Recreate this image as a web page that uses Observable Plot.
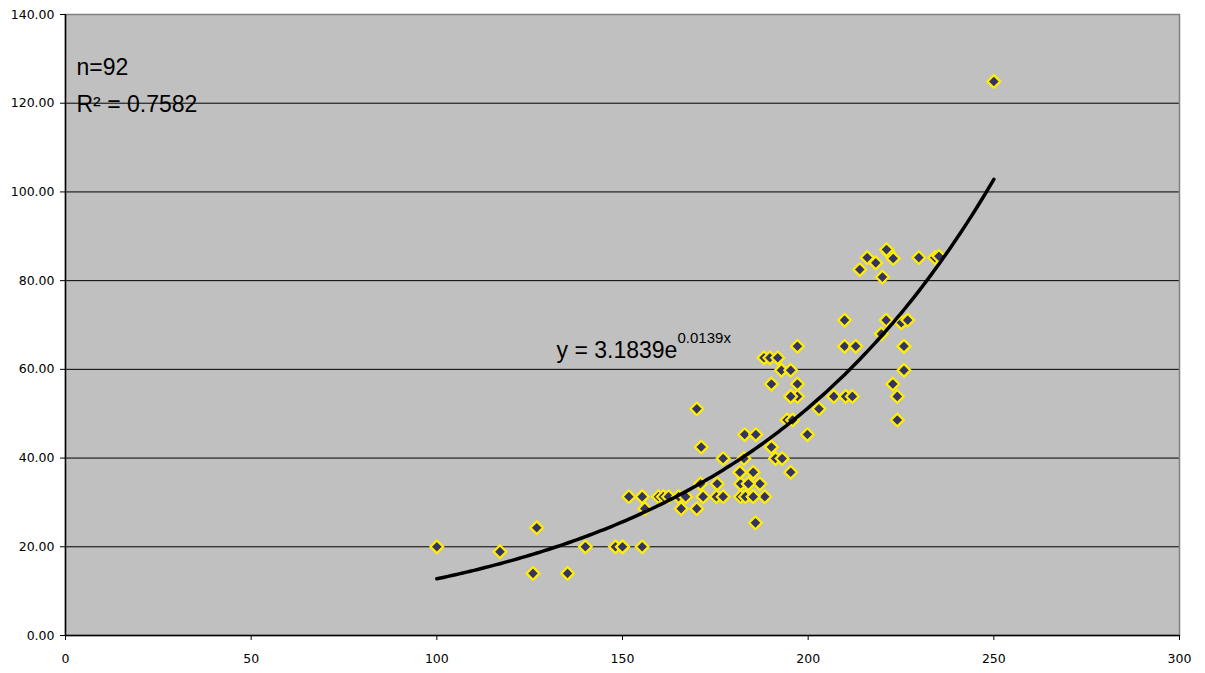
<!DOCTYPE html>
<html>
<head>
<meta charset="utf-8">
<script src="https://cdn.jsdelivr.net/npm/d3@7"></script>
<script src="https://cdn.jsdelivr.net/npm/@observablehq/plot@0.6"></script>
<style>
  html, body { margin: 0; padding: 0; background: #ffffff; }
  #chart { width: 1205px; height: 673px; }
</style>
</head>
<body>
<div id="chart"></div>
<script>
const xValues = [
  100, 117, 125.9, 126.9, 135.2, 140.0, 148.1, 150.0, 155.3,
  151.7, 155.3, 159.7, 161.0, 162.4, 165.1, 167.0, 171.7, 175.3, 177.1,
  156.0, 165.8, 170.0, 171.0, 175.5,
  170.0, 171.2, 177.1,
  182.9, 185.9, 181.6, 185.2, 181.8, 183.9, 187.0, 181.8, 183.1, 185.2, 188.3, 185.8,
  190.1, 191.2, 193.0, 195.3, 199.8, 182.7,
  197.1, 188.1, 189.7, 191.8, 192.8, 195.3, 190.1, 197.1, 195.3, 197.1, 194.3, 195.8, 202.9,
  206.9, 210.1, 211.9, 209.8, 212.8, 209.8,
  215.9, 213.9, 218.2, 221.6, 222.9, 220.0, 229.8, 234.1, 235.2,
  221.0, 225.1, 226.8, 219.7, 225.8, 225.8, 222.8, 224.0, 224.0,
  250.0,
  221.1, 150.0, 155.3, 185.2, 183.9, 181.6, 195.3, 190.1, 225.8
];
const yValues = [
  20.0, 18.9, 14.0, 24.3, 14.0, 20.0, 20.0, 20.0, 20.0,
  31.3, 31.3, 31.3, 31.3, 31.3, 31.3, 31.3, 31.3, 31.3, 31.3,
  28.6, 28.6, 28.6, 34.2, 34.2,
  51.1, 42.5, 39.9,
  45.3, 45.3, 36.8, 36.8, 34.2, 34.2, 34.2, 31.3, 31.3, 31.3, 31.3, 25.4,
  42.5, 39.9, 39.9, 36.8, 45.3, 39.9,
  65.2, 62.6, 62.6, 62.6, 59.8, 59.8, 56.7, 56.7, 53.9, 53.9, 48.6, 48.6, 51.1,
  53.9, 53.9, 53.9, 65.2, 65.2, 71.1,
  85.2, 82.5, 84.0, 86.4, 85.0, 80.8, 85.2, 85.2, 85.5,
  71.1, 70.5, 71.1, 68.0, 65.2, 59.8, 56.7, 53.9, 48.6,
  124.9,
  87.0, 20.0, 31.3, 31.3, 34.2, 36.8, 53.9, 42.5, 65.2
];

// Exponential trendline shown on the chart: y = a * e^(b x)
const trendA = 3.1839;
const trendB = 0.0139;
const trendRange = [100, 250];

// Axis ticks
const xTicks = [0, 50, 100, 150, 200, 250, 300];
const yTicks = [0, 20, 40, 60, 80, 100, 120, 140];

// Annotation texts
const nText = "n=92";
const r2Text = "R\u00B2 = 0.7582";
const eqText = "y = 3.1839e";
const eqExpText = "0.0139x";

const points = xValues.map((x, i) => ({x, y: yValues[i]}));
const trendXs = d3.range(trendRange[0], trendRange[1] + 0.001, 1);
const trend = trendXs.map(x => ({x, y: trendA * Math.exp(trendB * x)}));

const annFont = "Liberation Sans, Arial, sans-serif";

const chart = Plot.plot({
  width: 1205,
  height: 673,
  marginLeft: 65,
  marginRight: 26,
  marginTop: 14,
  marginBottom: 38,
  style: {fontFamily: "DejaVu Sans, Verdana, sans-serif", fontSize: "12.5px", background: "#ffffff", color: "#000000"},
  x: {domain: [0, 300]},
  y: {domain: [0, 140]},
  marks: [
    Plot.frame({fill: "#C0C0C0", stroke: null}),
    Plot.gridY(yTicks.filter(d => d > 0 && d < 140), {stroke: "#000000", strokeOpacity: 1, strokeWidth: 1}),
    Plot.dot(points, {x: "x", y: "y", symbol: "diamond2", r: 5.7, fill: "#333366", stroke: "#FFEE00", strokeWidth: 2.2}),
    Plot.line(trend, {x: "x", y: "y", stroke: "#000000", strokeWidth: 3.5, curve: "linear"}),
    Plot.frame({stroke: "#808080", strokeWidth: 1.5}),
    Plot.ruleX([0], {stroke: "#000000", strokeWidth: 1.5}),
    Plot.ruleY([0], {stroke: "#000000", strokeWidth: 1.5}),
    Plot.axisX(xTicks, {tickSize: 5, tickPadding: 14, label: null, fontSize: 12.5, stroke: "#000000", fill: "#000000"}),
    Plot.axisY(yTicks, {tickSize: 5, tickPadding: 6, label: null, tickFormat: d3.format(".2f"), fontSize: 12.5, stroke: "#000000", fill: "#000000"}),
    Plot.text([nText], {frameAnchor: "top-left", textAnchor: "start", dx: 11, dy: 44, fontSize: 23, fontFamily: annFont, fill: "#000000"}),
    Plot.text([r2Text], {frameAnchor: "top-left", textAnchor: "start", dx: 11, dy: 81, fontSize: 23, fontFamily: annFont, fill: "#000000"}),
    Plot.text([eqText], {frameAnchor: "top-left", textAnchor: "start", dx: 491, dy: 327, fontSize: 23, fontFamily: annFont, fill: "#000000"}),
    Plot.text([eqExpText], {frameAnchor: "top-left", textAnchor: "start", dx: 612, dy: 318, fontSize: 15, fontFamily: annFont, fill: "#000000"})
  ]
});
document.getElementById("chart").appendChild(chart);
</script>
</body>
</html>
